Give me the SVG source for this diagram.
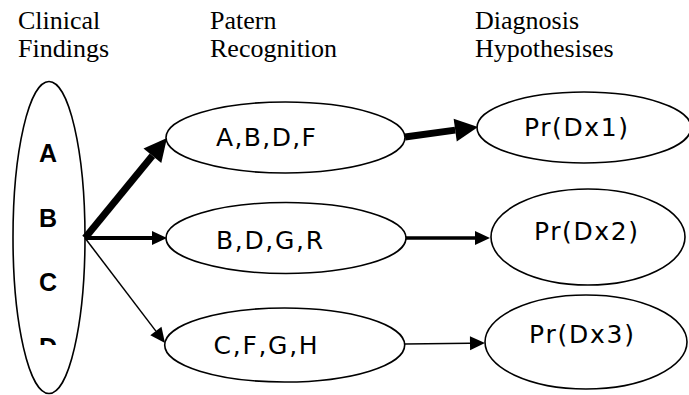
<svg xmlns="http://www.w3.org/2000/svg" width="689" height="395" viewBox="0 0 689 395">
<style>
.hdr{font-family:"Liberation Serif","Times New Roman",serif;font-size:26px;fill:#000}
.node ellipse{fill:#fff;stroke:#000;stroke-width:1.6}
.lbl{font-family:"DejaVu Sans",Verdana,sans-serif;font-size:25px;fill:#000;text-anchor:middle}
.let{font-family:"Liberation Sans",Arial,sans-serif;font-weight:bold;font-size:25px;fill:#000;text-anchor:middle}
.edge{stroke:#000;fill:none}
</style>
<defs>
<marker id="big" markerUnits="userSpaceOnUse" viewBox="0 -11.5 23 23" markerWidth="23" markerHeight="23" refX="0" refY="0" orient="auto" overflow="visible"><path d="M0,-11.5 L23,0 L0,11.5 Z" fill="#000"/></marker>
<marker id="mid" markerUnits="userSpaceOnUse" viewBox="0 -7 15 14" markerWidth="15" markerHeight="14" refX="0" refY="0" orient="auto" overflow="visible"><path d="M0,-7 L15,0 L0,7 Z" fill="#000"/></marker>
<clipPath id="clipD"><rect x="0" y="0" width="120" height="345"/></clipPath>
</defs>
<g id="headers">
<text class="hdr" x="18" y="29">Clinical</text>
<text class="hdr" x="18" y="57">Findings</text>
<text class="hdr" x="210" y="29">Patern</text>
<text class="hdr" x="210" y="57">Recognition</text>
<text class="hdr" x="475" y="29">Diagnosis</text>
<text class="hdr" x="475" y="57">Hypothesises</text>
</g>
<g id="findings" class="node">
<ellipse cx="49" cy="237.5" rx="36" ry="156"/>
<text class="let" x="48" y="162">A</text>
<text class="let" x="48" y="227">B</text>
<text class="let" x="48" y="291">C</text>
<text class="let" x="48" y="356" clip-path="url(#clipD)">D</text>
</g>
<g id="p1" class="node"><ellipse cx="285.5" cy="137.5" rx="119.5" ry="35.5"/><text class="lbl" x="266" y="146" textLength="100">A,B,D,F</text></g>
<g id="p2" class="node"><ellipse cx="286" cy="238" rx="120" ry="35.5"/><text class="lbl" x="269.5" y="249" textLength="107">B,D,G,R</text></g>
<g id="p3" class="node"><ellipse cx="284.7" cy="345" rx="120" ry="37"/><text class="lbl" x="265.6" y="354" textLength="104">C,F,G,H</text></g>
<g id="d1" class="node"><ellipse cx="584" cy="127.5" rx="107" ry="35.5"/><text class="lbl" x="576" y="136" textLength="104">Pr(Dx1)</text></g>
<g id="d2" class="node"><ellipse cx="588" cy="237" rx="97" ry="48"/><text class="lbl" x="586" y="240" textLength="104">Pr(Dx2)</text></g>
<g id="d3" class="node"><ellipse cx="586" cy="342" rx="101" ry="47"/><text class="lbl" x="581.5" y="343" textLength="105">Pr(Dx3)</text></g>
<g id="connectors">
<line class="edge" x1="85" y1="238" x2="152.4" y2="155.8" stroke-width="7" marker-end="url(#big)"/>
<line class="edge" x1="85" y1="238" x2="152" y2="238" stroke-width="4" marker-end="url(#mid)"/>
<line class="edge" x1="85" y1="238" x2="155.9" y2="331.1" stroke-width="1.5" marker-end="url(#mid)"/>
<line class="edge" x1="405" y1="137" x2="455.2" y2="130.1" stroke-width="7" marker-end="url(#big)"/>
<line class="edge" x1="406" y1="238" x2="475" y2="238" stroke-width="3.5" marker-end="url(#mid)"/>
<line class="edge" x1="405" y1="344" x2="470" y2="343.2" stroke-width="1.5" marker-end="url(#mid)"/>
</g>
</svg>
